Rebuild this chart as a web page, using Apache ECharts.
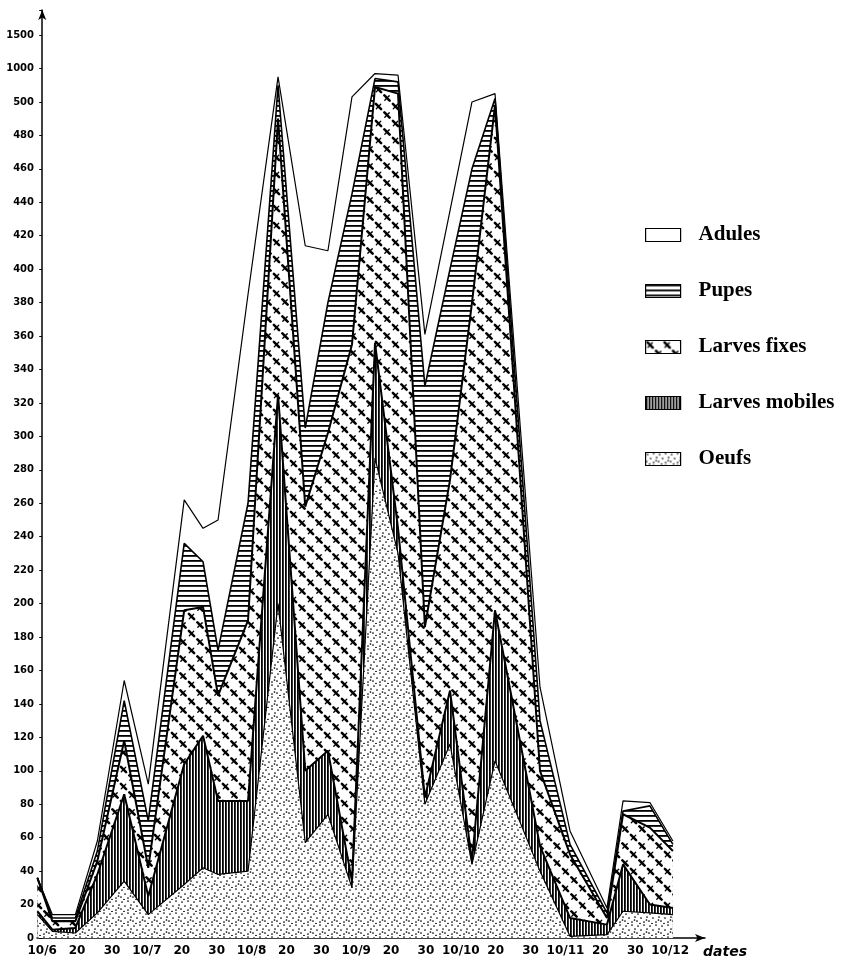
<!DOCTYPE html>
<html><head><meta charset="utf-8">
<script src="https://cdn.jsdelivr.net/npm/echarts@6/dist/echarts.min.js"></script>
<style>html,body{margin:0;padding:0;background:#fff}#c{width:865px;height:963px}</style>
</head><body><div id="c"></div>
<script>
// x tick labels (nominal 10-day steps, day 0 = 10/6)
const tickDays = [0,10,20,30,40,50,60,70,80,90,100,110,120,130,140,150,160,170,180];
const dateLabels = ["10/6","20","30","10/7","20","30","10/8","20","30","10/9","20","30","10/10","20","30","10/11","20","30","10/12"];
// sampling dates (days after 10/6)
const sampleDays = [-1.4,2.9,9.5,15.8,23.5,30.4,40.7,46.1,50.4,59.0,67.6,75.4,81.9,88.8,95.4,102.0,109.7,116.9,123.2,129.8,142.7,151.3,161.9,166.5,174.2,180.8];
// counts per stage (stacked bottom to top)
const oeufs         = [14,4,3,15,34,14,32,42,38,40,200,57,74,30,287,230,80,116,44,106,40,1,2,16,15,14];
const larvesMobiles = [2,1,3,23,52,11,72,79,44,42,125,43,38,4,69,15,4,32,2,90,15,11,6,28,5,4];
const larvesFixes   = [20,5,4,8,32,17,92,77,63,108,165,158,190,321,369,380,102,126,334,302,45,38,4,30,46,34];
const pupes         = [0,2,2,6,24,28,40,27,27,70,260,47,78,90,125,175,144,126,80,52,30,6,3,2,13,4];
const adules        = [0,2,2,6,12,22,26,20,78,125,125,109,31,130,75,100,31,35,40,75,20,8,3,6,2,2];
// y axis: linear to 500, then broken scale (1000, 1500)
const yBreakLabels = {520:'1000', 540:'1500'};

function brk(v){ return v <= 500 ? v : 500 + (v - 500) / 25; }

function pat(w,h,draw){
  const c=document.createElement('canvas'); c.width=w; c.height=h;
  const g=c.getContext('2d'); g.fillStyle='#fff'; g.fillRect(0,0,w,h);
  g.fillStyle='#000'; g.strokeStyle='#000'; draw(g);
  return {image:c, repeat:'repeat'};
}
const pWhite = '#ffffff';
const pPupes = pat(8,5,g=>{ g.fillRect(0,0,8,1.8); });
const pMob = pat(3.5,8,g=>{ g.fillRect(0,0,1.8,8); });
const pFix = pat(17,17,g=>{
  g.lineCap='round';
  function dart(x,y){ g.lineWidth=2.6; g.beginPath(); g.moveTo(x-2.6,y-2.6); g.lineTo(x+2.6,y+2.6); g.stroke();
    g.lineWidth=1.3; g.beginPath(); g.moveTo(x+2.2,y-2.2); g.lineTo(x-2.2,y+2.2); g.stroke(); }
  dart(4.5,4.5); dart(13,13);
});
const pEgg = pat(12,12,g=>{
  const pts=[[2,2],[8,1],[5,6],[11,5],[1,9],[8,10],[4,11.5],[10.5,8]];
  pts.forEach(p=>{ g.beginPath(); g.arc(p[0],p[1],0.85,0,Math.PI*2); g.fill(); });
});

// cumulative stacks
const cE = oeufs.slice();
const cM = cE.map((v,i)=>v+larvesMobiles[i]);
const cF = cM.map((v,i)=>v+larvesFixes[i]);
const cP = cF.map((v,i)=>v+pupes[i]);
const cA = cP.map((v,i)=>v+adules[i]);
function pts(arr){ return sampleDays.map((d,i)=>[d, brk(arr[i])]); }

function ser(name, arr, fill, lw){
  return {name, type:'line', data:pts(arr), showSymbol:false, symbol:'none',
    lineStyle:{color:'#000', width:lw}, itemStyle:{color:fill, borderColor:'#000', borderWidth:1},
    areaStyle:{color:fill, opacity:1}, silent:true};
}

const chart = echarts.init(document.getElementById('c'));
chart.setOption({
  animation:false, backgroundColor:'#fff',
  grid:{left:37, right:160, top:10, bottom:25},
  xAxis:{type:'value', min:-1.5, max:190, splitLine:{show:false},
    name:'dates', nameLocation:'end', nameGap:-2,
    nameTextStyle:{color:'#000', fontSize:14, fontStyle:'italic', fontWeight:'bold', fontFamily:'DejaVu Sans', verticalAlign:'top', padding:[7,0,0,0]},
    axisLine:{lineStyle:{color:'#000', width:1.5}, symbol:['none','arrow'], symbolSize:[6,10]},
    axisTick:{customValues:tickDays, length:3, inside:true, lineStyle:{color:'#000', width:1.5}},
    axisLabel:{customValues:tickDays, color:'#000', fontSize:12, fontWeight:'bold', fontFamily:'DejaVu Sans', margin:7,
      formatter:v=>{ const i=tickDays.indexOf(Math.round(v)); return i>=0?dateLabels[i]:''; }}},
  yAxis:{type:'value', min:0, max:555, interval:20, splitLine:{show:false},
    axisLine:{lineStyle:{color:'#000', width:1.5}, symbol:['none','arrow'], symbolSize:[6,10]},
    axisTick:{length:3, lineStyle:{color:'#000'}},
    axisLabel:{color:'#000', fontSize:10, fontWeight:'bold', fontFamily:'DejaVu Sans', margin:3,
      formatter:v=> yBreakLabels[v] ? yBreakLabels[v] : (v<=500 ? String(v) : '')}},
  legend:{orient:'vertical', left:640, top:218, itemWidth:35, itemHeight:13, itemGap:32,
    itemStyle:{borderColor:'#000', borderWidth:1.2},
    textStyle:{color:'#000', fontSize:21, fontWeight:'bold', fontFamily:'Liberation Serif', lineHeight:24, padding:[0,0,0,13]},
    data:[{name:'Adules', icon:'rect'},{name:'Pupes', icon:'rect'},{name:'Larves fixes', icon:'rect'},{name:'Larves mobiles', icon:'rect'},{name:'Oeufs', icon:'rect'}]},
  series:[
    ser('Adules', cA, pWhite, 1.2),
    ser('Pupes', cP, pPupes, 1.6),
    ser('Larves fixes', cF, pFix, 2),
    ser('Larves mobiles', cM, pMob, 2),
    ser('Oeufs', cE, pEgg, 1.2)
  ]
});
</script></body></html>
